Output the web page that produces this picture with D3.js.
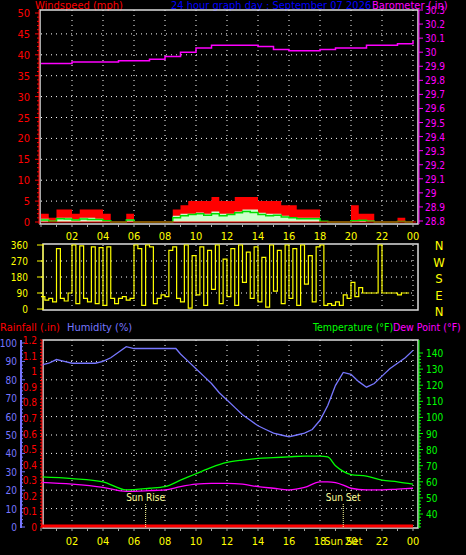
<!DOCTYPE html>
<html><head><meta charset="utf-8">
<script src="https://cdn.jsdelivr.net/npm/d3@7"></script>
<style>body{margin:0;background:#000}svg{display:block}text{font-family:"DejaVu Sans Condensed","DejaVu Sans",sans-serif}</style>
</head><body><svg id="c" width="466" height="555"></svg>
<script>
// ---- data ----
const hourTicks = ["02","04","06","08","10","12","14","16","18","20","22","00"];
const windHours = d3.range(0,24,0.5);
const gust = [2,1,3,3,2,3,3,3,2,0,0,2,0,0,0,0,0,3,4,5,5,5,6,5,5,6,6,6,5,5,5,4,4,3,3,3,0,0,0,0,4,2,2,0,0,0,1,0];
const windAvg = [0.8,0.3,1,1,0.6,1,1,0.8,0.5,0,0,0.6,0,0,0,0,0,1.5,2,2,2.3,2,2.5,2,2,2.5,3,3,2.2,2,2,1.5,1.2,1,1,1,0,0,0,0,0.5,0.5,0.3,0,0,0,0.2,0];
const windLine = [0.5,0.2,0.8,0.7,0.5,0.7,0.6,0.6,0.3,0,0,0.5,0,0,0,0,0,1,1.5,1.8,2,1.6,2,1.5,1.8,2.2,2.5,2.3,1.8,1.5,1.6,1.2,1,0.8,0.8,0.8,0.2,0,0,0,0.3,0.4,0.2,0,0,0,0.1,0];
const baroHours = [0,1,2,3,4,5,6,7,8,9,10,11,12,13,14,15,16,17,18,19,20,21,22,23,24];
const baro = [29.92,29.92,29.93,29.93,29.93,29.94,29.94,29.95,29.97,30.0,30.03,30.05,30.05,30.05,30.04,30.02,30.01,30.01,30.02,30.03,30.03,30.05,30.05,30.06,30.08];
const dirHours = d3.range(0,24,0.25);
const dirVals = [70,50,60,40,340,60,45,90,360,30,355,60,40,350,30,345,20,350,60,30,60,70,50,60,
  360,340,20,360,350,30,60,80,70,330,350,60,40,360,5,300,80,350,20,330,110,360,30,280,
  70,340,20,360,150,320,60,350,40,290,10,360,100,330,30,360,60,340,20,360,140,300,40,350,
  360,20,30,20,40,20,80,60,150,70,120,90,90,90,90,360,90,90,90,90,80,90,90,90];
const humHours = [0,0.5,1,1.5,2,3,3.5,4,4.5,5,5.5,6,7,8,8.7,9,9.5,10,10.5,11,11.5,12,12.5,13,13.5,14,14.5,15,15.5,16,16.5,17,17.5,18,18.5,19,19.5,20,20.5,21,21.5,22,22.5,23,23.5,24];
const humidity = [88,89,91,90,89,89,89,90,92,95,98,97,97,97,97,94,90,86,82,78,73,69,65,61,58,55,53,51,50,49,50,51,53,58,66,77,84,83,79,76,78,82,86,89,92,96];
const tHours = [0,2,4,5.5,7,8,9,10,11,12,13,14,15,16,17,18,18.5,19,19.5,20,21,22,23,24];
const temperature = [63,62,60,55,56,57,61,65,69,72,73.5,74.5,75,75.5,76,76,75.5,70,66.5,64.5,63.5,61,60,58.5];
const dewpoint = [59.6,58.5,56.5,54,54.5,55,57,58.5,59,59,58.5,57,56,55,56.5,60,60,59.5,58,56,55,55,55.5,56];
const rainHours = [0,24];
const rain = [0,0];

// ---- layout ----
const svg = d3.select("#c");
const x = d3.scaleLinear().domain([0,24]).range([41,413]);
const yW = d3.scaleLinear().domain([0,50]).range([222,13]);
const yB = d3.scaleLinear().domain([28.8,30.3]).range([221,10]);
const yD = d3.scaleLinear().domain([0,360]).range([309,245]);
const yH = d3.scaleLinear().domain([0,100]).range([527,343]);
const yR = d3.scaleLinear().domain([0,1.2]).range([527,340]);
const yT = d3.scaleLinear().domain([40,140]).range([514,353]);
const dot = "1,4";

function txt(t,xx,yy,col,anchor,size){svg.append("text").attr("x",xx).attr("y",yy).attr("fill",col)
  .attr("font-size",size||11).attr("text-anchor",anchor||"start").text(t);}

function grid(yScale,vals,y0,y1){
  const g=svg.append("g").attr("stroke","#fff").attr("stroke-dasharray",dot).attr("stroke-width",1);
  vals.forEach(v=>g.append("line").attr("x1",41).attr("x2",416).attr("y1",yScale(v)).attr("y2",yScale(v)));
  d3.range(2,25,2).forEach(h=>g.append("line").attr("x1",x(h)).attr("x2",x(h)).attr("y1",y0).attr("y2",y1));
}
function frame(y0,y1,left){
  svg.append("rect").attr("x",left).attr("y",y0).attr("width",418-left).attr("height",y1-y0)
   .attr("fill","none").attr("stroke","#ddd").attr("stroke-width",1.5);
}

// Titles
txt("Windspeed (mph)",35,9,"#ff0000");
txt("24 hour graph day : September 07 2026",171,9,"#0000ff");
txt("Barometer (.in)",372,9,"#ff00ff");

// Panel 1
grid(yW,[5,10,15,20,25,30,35,40,45],10,223);
frame(10,224,40);
svg.append("path").datum(windHours.map((h,i)=>[h,gust[i]]).concat([[24,0]]))
  .attr("fill","#ff0000").attr("d",d3.area().x(d=>x(d[0])).y0(yW(0)).y1(d=>yW(d[1])).curve(d3.curveStepAfter));
svg.append("path").datum(windHours.map((h,i)=>[h,windAvg[i]]).concat([[24,0]]))
  .attr("fill","#ccffcc").attr("d",d3.area().x(d=>x(d[0])).y0(yW(0)).y1(d=>yW(d[1])).curve(d3.curveStepAfter));
svg.append("path").datum(windHours.map((h,i)=>[h,windLine[i]]).concat([[24,0]]))
  .attr("fill","none").attr("stroke","#00dd00").attr("stroke-width",1.5)
  .attr("d",d3.line().x(d=>x(d[0])).y(d=>yW(d[1])).curve(d3.curveStepAfter));
svg.append("line").attr("x1",41).attr("x2",416).attr("y1",yW(0)).attr("y2",yW(0)).attr("stroke","#ff0000");
svg.append("path").datum(baroHours.map((h,i)=>[h,baro[i]]))
  .attr("fill","none").attr("stroke","#ff00ff").attr("stroke-width",1.5)
  .attr("d",d3.line().x(d=>x(d[0])).y(d=>yB(d[1])).curve(d3.curveStepAfter));
// wind axis
const gw=svg.append("g").attr("transform","translate(39,0)");
gw.append("line").attr("y1",10).attr("y2",224).attr("stroke","#ff0000");
d3.range(0,51,1).forEach(v=>gw.append("line").attr("x1",v%5?-2:-4).attr("x2",0).attr("y1",yW(v)).attr("y2",yW(v)).attr("stroke","#ff0000"));
d3.range(0,51,5).forEach(v=>txt(v,30,yW(v)+4,"#ff0000","end"));
const gb=svg.append("g").attr("transform","translate(419,0)");
gb.append("line").attr("y1",10).attr("y2",224).attr("stroke","#ff00ff");
d3.range(28.8,30.31,0.1).forEach(v=>{gb.append("line").attr("x1",0).attr("x2",4).attr("y1",yB(v)).attr("y2",yB(v)).attr("stroke","#ff00ff");
  txt(+v.toFixed(1)+"",425,yB(v)+4,"#ff00ff","start",10);});
d3.range(0,24.1,1).forEach(h=>svg.append("line").attr("x1",x(h)).attr("x2",x(h)).attr("y1",224).attr("y2",227).attr("stroke","#aaa"));
hourTicks.forEach((t,i)=>txt(t,x(2*(i+1)),240,"#ffff00","middle"));

// Panel 2: wind direction
grid(yD,[90,180,270],245,309);
frame(244,310,43);
svg.append("path").datum(dirHours.map((h,i)=>[h,dirVals[i]]))
  .attr("fill","none").attr("stroke","#ffff00").attr("stroke-width",1.2)
  .attr("d",d3.line().x(d=>x(d[0])).y(d=>yD(d[1])).curve(d3.curveStepAfter));
[0,90,180,270,360].forEach(v=>{txt(v,28,yD(v)+4,"#ffff00","end",10);
  svg.append("line").attr("x1",37).attr("x2",43).attr("y1",yD(v)).attr("y2",yD(v)).attr("stroke","#ffff00");});
svg.append("line").attr("x1",43).attr("x2",43).attr("y1",244).attr("y2",310).attr("stroke","#ffff00");
["N","W","S","E","N"].forEach((t,i)=>txt(t,439,250+i*16.5,"#ffff00","middle",13));

// Panel 3
txt("Rainfall (.in)",0,331,"#ff0000");
txt("Humidity (%)",67,331,"#7777ff");
txt("Temperature (°F)",313,331,"#00ff00",null,10.5);
txt("Dew Point (°F)",393,331,"#ff00ff",null,10.5);
grid(yH,d3.range(10,100,10),340,527);
frame(340,528,43);
svg.append("path").datum(humHours.map((h,i)=>[h,humidity[i]]))
  .attr("fill","none").attr("stroke","#7777ff").attr("stroke-width",1.3)
  .attr("d",d3.line().x(d=>x(d[0])).y(d=>yH(d[1])));
svg.append("path").datum(tHours.map((h,i)=>[h,temperature[i]]))
  .attr("fill","none").attr("stroke","#00ff00").attr("stroke-width",1.3)
  .attr("d",d3.line().x(d=>x(d[0])).y(d=>yT(d[1])).curve(d3.curveMonotoneX));
svg.append("path").datum(tHours.map((h,i)=>[h,dewpoint[i]]))
  .attr("fill","none").attr("stroke","#ff00ff").attr("stroke-width",1.3)
  .attr("d",d3.line().x(d=>x(d[0])).y(d=>yT(d[1])).curve(d3.curveMonotoneX));
svg.append("path").datum(rainHours.map((h,i)=>[h,rain[i]]))
  .attr("fill","none").attr("stroke","#ff0000").attr("stroke-width",3)
  .attr("d",d3.line().x(d=>x(d[0])).y(d=>yR(d[1])-1));
[[6.75,"Sun Rise"],[19.5,"Sun Set"]].forEach(([h,t])=>{
  svg.append("line").attr("x1",x(h)).attr("x2",x(h)).attr("y1",504).attr("y2",527).attr("stroke","#ffff99").attr("stroke-dasharray","1,1");
  txt(t,x(h),501,"#ffff99","middle",10);});
const gh=svg.append("g").attr("transform","translate(21,0)");
gh.append("rect").attr("x",-1).attr("y",340).attr("width",2).attr("height",188).attr("fill","#7777ff");
d3.range(0,101,2).forEach(v=>gh.append("line").attr("x1",0).attr("x2",v%10?2:4).attr("y1",yH(v)).attr("y2",yH(v)).attr("stroke","#7777ff"));
d3.range(0,101,10).forEach(v=>txt(v,17,yH(v)+4,"#7777ff","end",10));
const gr=svg.append("g").attr("transform","translate(42,0)");
gr.append("line").attr("y1",340).attr("y2",528).attr("stroke","#ff0000");
d3.range(0,1.21,0.02).forEach(v=>gr.append("line").attr("x1",-2).attr("x2",0).attr("y1",yR(v)).attr("y2",yR(v)).attr("stroke","#ff0000"));
d3.range(0,1.21,0.1).forEach(v=>txt(+v.toFixed(1)+"",37,yR(v)+4,"#ff0000","end",10));
const gt=svg.append("g").attr("transform","translate(419,0)");
gt.append("line").attr("y1",340).attr("y2",528).attr("stroke","#00ff00");
d3.range(32,141,2).forEach(v=>gt.append("line").attr("x1",0).attr("x2",v%10?2:4).attr("y1",yT(v)).attr("y2",yT(v)).attr("stroke","#00ff00"));
d3.range(40,141,10).forEach(v=>txt(v,426,yT(v)+4,"#00ff00","start",10));
d3.range(0,24.1,1).forEach(h=>svg.append("line").attr("x1",x(h)).attr("x2",x(h)).attr("y1",528).attr("y2",531).attr("stroke","#aaa"));
hourTicks.forEach((t,i)=>txt(t,x(2*(i+1)),545,"#ffff00","middle"));
txt("Sun Set",x(19.5),545,"#ffff00","middle");
</script></body></html>
